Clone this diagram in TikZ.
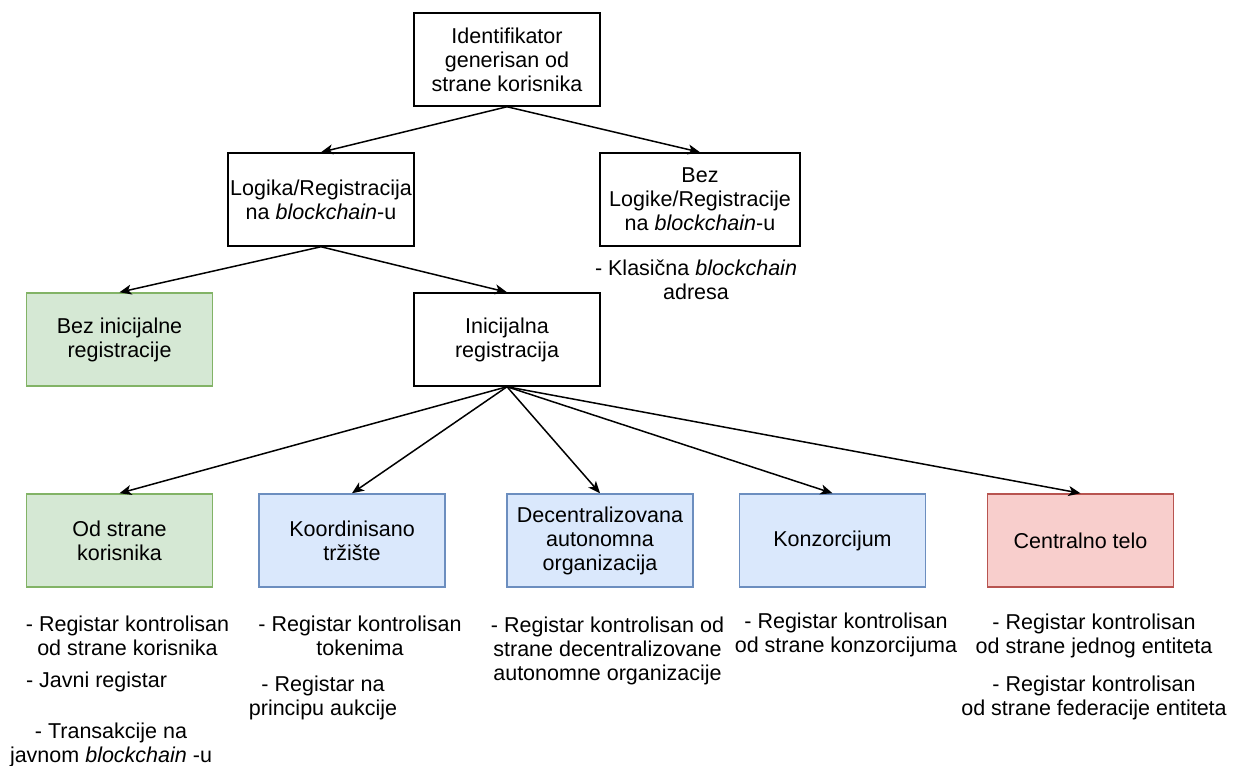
\documentclass[tikz,border=0pt]{standalone}
\usepackage{fontspec}
\setmainfont{Liberation Sans}
\usetikzlibrary{arrows.meta}

\definecolor{greenfill}{HTML}{D5E8D4}
\definecolor{greenline}{HTML}{82B366}
\definecolor{bluefill}{HTML}{DAE8FC}
\definecolor{blueline}{HTML}{6C8EBF}
\definecolor{redfill}{HTML}{F8CECC}
\definecolor{redline}{HTML}{B85450}

\begin{document}
\begin{tikzpicture}[
  x=0.5pt, y=-0.5pt,
  every node/.style={font=\fontsize{10.75pt}{12pt}\selectfont, align=center, inner sep=0pt},
  box/.style={draw=black, line width=0.75pt, minimum width=93pt, minimum height=46.5pt},
  widebox/.style={box, minimum width=100pt},
  greenbox/.style={box, draw=greenline, fill=greenfill},
  bluebox/.style={box, draw=blueline, fill=bluefill},
  redbox/.style={box, draw=redline, fill=redfill},
  note/.style={text=black},
  link/.style={line width=0.75pt, -{Stealth[length=6pt, width=5pt, inset=1.6pt]}}
]
\useasboundingbox (0,0) rectangle (1246,765);

% hierarchy boxes
\node[box] (root) at (507,59.5) {Identifikator\\generisan od\\strane korisnika};
\node[box] (onchain) at (321,199.5) {Logika/Registracija\\na \textit{blockchain}-u};
\node[widebox] (offchain) at (700,199.5) {Bez\\Logike/Registracije\\na \textit{blockchain}-u};
\node[greenbox] (noreg) at (119.5,339.5) {Bez inicijalne\\registracije};
\node[box] (initreg) at (507,339.5) {Inicijalna\\registracija};

\node[greenbox] (user) at (119.5,540.5) {Od strane\\korisnika};
\node[bluebox] (market) at (352,540.5) {Koordinisano\\tržište};
\node[bluebox] (dao) at (600,540.5) {Decentralizovana\\autonomna\\organizacija};
\node[bluebox] (consort) at (832.5,540.5) {Konzorcijum};
\node[redbox] (central) at (1080.5,540.5) {Centralno telo};

% connectors
\draw[link] (root.south) -- (onchain.north);
\draw[link] (root.south) -- (offchain.north);
\draw[link] (onchain.south) -- (noreg.north);
\draw[link] (onchain.south) -- (initreg.north);
\draw[link] (initreg.south) -- (user.north);
\draw[link] (initreg.south) -- (market.north);
\draw[link] (initreg.south) -- (dao.north);
\draw[link] (initreg.south) -- (consort.north);
\draw[link] (initreg.south) -- (central.north);

% notes
\node[note] (offnote) at (696,279.5) {- Klasična \textit{blockchain}\\adresa};

\node[note] (usernote1) at (127.5,635.5) {- Registar kontrolisan\\od strane korisnika};
\node[note] (usernote2) at (96.5,682) {- Javni registar};
\node[note] (usernote3) at (111,744.5) {- Transakcije na\\javnom \textit{blockchain} -u};

\node[note] (marketnote1) at (360,635.5) {- Registar kontrolisan\\tokenima};
\node[note] (marketnote2) at (323,697.5) {- Registar na\\principu aukcije};

\node[note] (daonote) at (607.5,650.5) {- Registar kontrolisan od\\strane decentralizovane\\autonomne organizacije};

\node[note] (consortnote) at (846,635) {- Registar kontrolisan\\od strane konzorcijuma};

\node[note] (centralnote1) at (1094,635.5) {- Registar kontrolisan\\od strane jednog entiteta};
\node[note] (centralnote2) at (1094,697.5) {- Registar kontrolisan\\od strane federacije entiteta};
\end{tikzpicture}
\end{document}
